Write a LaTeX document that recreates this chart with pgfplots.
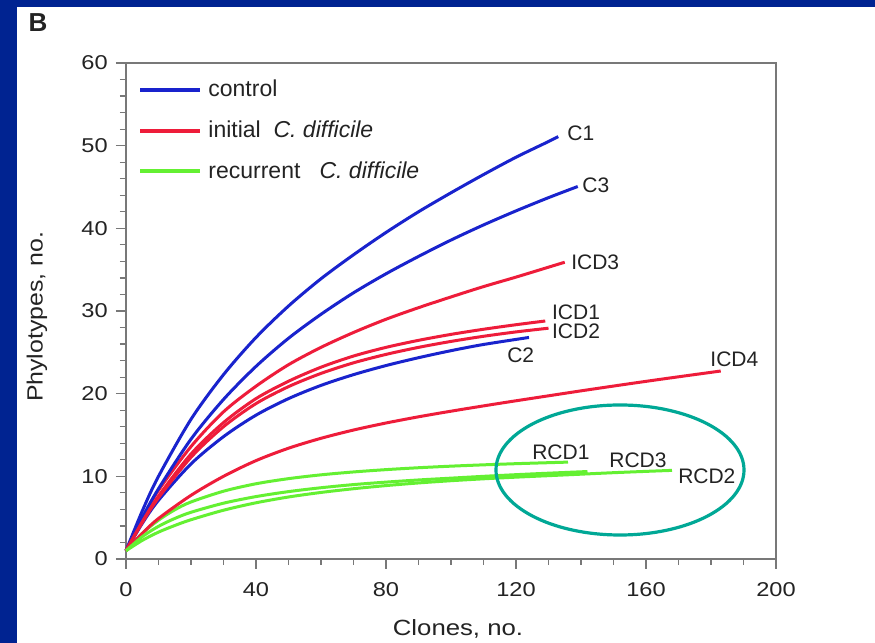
\documentclass[border=0pt]{standalone}
\usepackage{pgfplots}
\pgfplotsset{compat=1.18}
\usepackage{fontspec}
\setmainfont{Liberation Sans}
\definecolor{navybg}{RGB}{0,35,145}
\definecolor{cblue}{RGB}{25,35,205}
\definecolor{cred}{RGB}{238,28,58}
\definecolor{cgreen}{RGB}{100,240,50}
\definecolor{cteal}{RGB}{0,168,150}
\definecolor{framegray}{RGB}{120,120,120}
\definecolor{txt}{RGB}{35,35,35}
\begin{document}
\begin{tikzpicture}
\fill[navybg] (0pt,0pt) rectangle (437.5pt,321.5pt);
\fill[white] (8.5pt,0pt) rectangle (437.5pt,318pt);
\node[font=\bfseries\fontsize{13}{15}\selectfont, text=txt] at (19pt,310pt) {B};
\begin{axis}[
  at={(63pt,42pt)}, anchor=south west,
  width=325pt, height=248pt, scale only axis,
  xmin=0, xmax=200, ymin=0, ymax=60,
  xtick={0,40,80,120,160,200}, ytick={0,10,20,30,40,50,60},
  minor x tick num=3, minor y tick num=4,
  tick align=outside, xtick pos=bottom, ytick pos=left,
  major tick length=5pt, minor tick length=3pt,
  axis line style={framegray, line width=0.8pt},
  every tick/.style={framegray, line width=0.6pt},
  /pgf/number format/assume math mode=true,
  tick label style={font=\fontsize{10}{12}\selectfont, text=txt, xscale=1.18},
  xticklabel style={yshift=-3pt},
  legend style={at={(0.0185,0.966)}, anchor=north west, draw=none, fill=none,
    inner sep=0pt, row sep=10.5pt, font=\fontsize{11.5}{13}\selectfont, text=txt,
    nodes={inner sep=0pt, anchor=west}},
  legend cell align=left,
  legend image code/.code={\draw[#1, line width=2pt] (0pt,0pt) -- (30pt,0pt);},
  every axis plot/.append style={line width=1.5pt, smooth},
  clip=false,
]
% C1
\addplot[cblue] coordinates {(0,1) (5,5.8) (10,10.0) (20,16.9) (30,22.3) (40,26.8) (50,30.6) (60,33.9) (70,36.8) (80,39.5) (90,42.0) (100,44.3) (110,46.5) (120,48.6) (130,50.5) (133,51.1)};
\addlegendentry{\hspace{3pt}control}
% ICD3
\addplot[cred] coordinates {(0,1) (5,4.9) (10,8.3) (20,13.6) (30,17.8) (40,20.9) (50,23.5) (60,25.6) (70,27.4) (80,29.0) (90,30.4) (100,31.7) (110,32.95) (120,34.1) (130,35.3) (135,35.9)};
\addlegendentry{\hspace{3pt}initial\ \ \textit{C. difficile}}
% RCD1
\addplot[cgreen] coordinates {(0,1) (5,3.1) (10,4.7) (15,5.95) (20,6.9) (30,8.2) (40,9.1) (50,9.72) (60,10.18) (70,10.53) (80,10.81) (90,11.04) (100,11.23) (110,11.39) (120,11.53) (130,11.65) (136,11.72)};
\addlegendentry{\hspace{3pt}recurrent\ \ \ \textit{C. difficile}}
% C3
\addplot[cblue, forget plot] coordinates {(0,1) (5,5.0) (10,8.5) (20,14.5) (30,19.3) (40,23.3) (50,26.7) (60,29.6) (70,32.2) (80,34.5) (90,36.6) (100,38.58) (110,40.41) (120,42.11) (130,43.71) (139,45.06)};
% C2
\addplot[cblue, forget plot] coordinates {(0,1) (5,4.3) (10,7.1) (20,11.5) (30,14.8) (40,17.4) (50,19.4) (60,21.0) (70,22.3) (80,23.4) (90,24.35) (100,25.2) (110,25.95) (124,26.8)};
% ICD1
\addplot[cred, forget plot] coordinates {(0,1) (5,4.5) (10,7.6) (20,12.7) (30,16.5) (40,19.4) (50,21.5) (60,23.2) (70,24.55) (80,25.6) (90,26.45) (100,27.17) (110,27.79) (120,28.34) (129,28.79)};
% ICD2
\addplot[cred, forget plot] coordinates {(0,1) (5,4.4) (10,7.4) (20,12.3) (30,16.0) (40,18.8) (50,20.85) (60,22.45) (70,23.73) (80,24.75) (90,25.6) (100,26.32) (110,26.94) (120,27.47) (130,27.92)};
% ICD4
\addplot[cred, forget plot] coordinates {(0,1) (5,3.1) (10,4.9) (20,7.7) (30,10.0) (40,11.9) (50,13.4) (60,14.6) (70,15.6) (80,16.45) (90,17.2) (100,17.88) (110,18.52) (120,19.14) (130,19.74) (140,20.34) (150,20.92) (160,21.49) (170,22.04) (183,22.74)};
% RCD3
\addplot[cgreen, forget plot] coordinates {(0,1) (5,2.7) (10,3.95) (15,4.9) (20,5.65) (30,6.75) (40,7.55) (50,8.15) (60,8.62) (70,9.0) (80,9.3) (90,9.56) (100,9.78) (110,10.0) (120,10.2) (130,10.38) (142,10.58)};
% RCD2
\addplot[cgreen, forget plot] coordinates {(0,1) (5,2.25) (10,3.25) (15,4.05) (20,4.75) (30,5.9) (40,6.8) (50,7.5) (60,8.05) (70,8.5) (80,8.88) (90,9.2) (100,9.47) (110,9.7) (120,9.9) (130,10.08) (140,10.26) (150,10.44) (160,10.6) (168,10.72)};
% labels
\begin{scope}[every node/.style={font=\fontsize{10.5}{12}\selectfont, text=txt, anchor=west, inner sep=0pt}]
\node at (axis cs:135.7,51.5) {C1};
\node at (axis cs:140.3,45.2) {C3};
\node at (axis cs:136.9,35.9) {ICD3};
\node at (axis cs:131,29.8) {ICD1};
\node at (axis cs:131,27.5) {ICD2};
\node at (axis cs:117.2,24.7) {C2};
\node at (axis cs:179.7,24.2) {ICD4};
\node at (axis cs:124.9,12.9) {RCD1};
\node at (axis cs:148.6,12.0) {RCD3};
\node at (axis cs:169.8,10.0) {RCD2};
\end{scope}
\end{axis}
\draw[cteal, line width=1.6pt] (310pt,86.5pt) ellipse [x radius=62pt, y radius=32.5pt];
\node[font=\fontsize{11}{13}\selectfont, text=txt, rotate=90, xscale=1.13] at (18.5pt,163pt) {Phylotypes, no.};
\node[font=\fontsize{11}{13}\selectfont, text=txt, xscale=1.17] at (229pt,7pt) {Clones, no.};
\pgfresetboundingbox
\useasboundingbox (0pt,0pt) rectangle (437.5pt,321.5pt);
\end{tikzpicture}
\end{document}
